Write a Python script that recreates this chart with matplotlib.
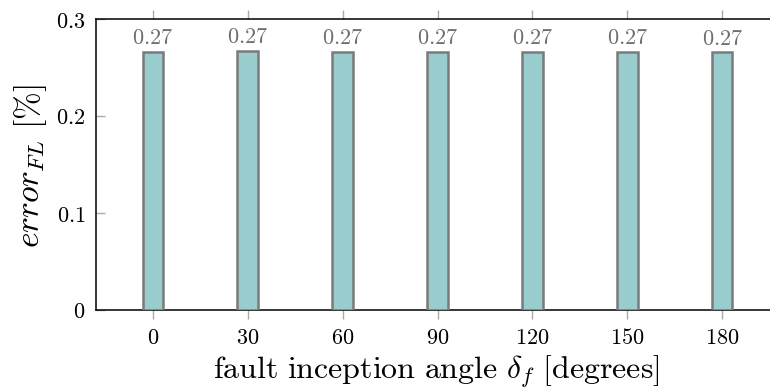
import matplotlib
matplotlib.use("Agg")
import matplotlib.pyplot as plt
from matplotlib.ticker import FuncFormatter

angles = [0, 30, 60, 90, 120, 150, 180]
errors = [0.266, 0.2673, 0.266, 0.266, 0.266, 0.266, 0.2655]
labels = ["0.27"] * 7
yticks = [0, 0.1, 0.2, 0.3]

plt.rcParams['mathtext.fontset'] = 'cm'
plt.rcParams['font.family'] = 'serif'
plt.rcParams['font.serif'] = ['DejaVu Serif']

W, H = 770, 391
fig = plt.figure(figsize=(W / 100, H / 100), dpi=100)
ax_l, ax_r, ax_b, ax_t = 96, 779, 310, 19
ax = fig.add_axes([ax_l / W, (H - ax_b) / H, (ax_r - ax_l) / W, (ax_b - ax_t) / H])

ax.bar(angles, errors, width=6.4, color='#99cccc', edgecolor='#7a7a7a', linewidth=1.8, zorder=3)
for x, y, t in zip(angles, errors, labels):
    ax.annotate(f"${t}$", (x, y), xytext=(0, 5.5), textcoords='offset points',
                ha='center', va='baseline', fontsize=16, color='#6e6e6e')

ax.set_xlim(-17.9, 197.9)
ax.set_ylim(0, 0.3)
ax.set_xticks(angles)
ax.set_yticks(yticks)
ax.xaxis.set_major_formatter(FuncFormatter(lambda v, p: f"${int(v)}$"))
ax.yaxis.set_major_formatter(FuncFormatter(lambda v, p: "$0$" if v == 0 else f"${v:.1f}$"))
ax.tick_params(axis='x', direction='out', top=True, length=6.3, width=1, color='#aaaaaa', labelsize=16, pad=6)
ax.tick_params(axis='y', direction='in', right=True, length=6.3, width=1, color='#aaaaaa', labelsize=16, pad=7.5)
for s in ax.spines.values():
    s.set_linewidth(1.1)

ax.set_xlabel(r"$\mathrm{fault\ inception\ angle}\ \delta_f\ \mathrm{[degrees]}$", fontsize=23)
ax.xaxis.label.set_va('baseline')
ax.xaxis.set_label_coords((436.5 - ax_l) / (ax_r - ax_l), -(378.5 - ax_b) / (ax_b - ax_t))

ax.set_ylabel(r"$error_{FL}\ \mathrm{[\%]}$", fontsize=24)
ax.yaxis.label.set_va('baseline')
ax.yaxis.set_label_coords(-(ax_l - 39) / (ax_r - ax_l), (ax_b - 166) / (ax_b - ax_t))

fig.savefig("out.png", dpi=100)
